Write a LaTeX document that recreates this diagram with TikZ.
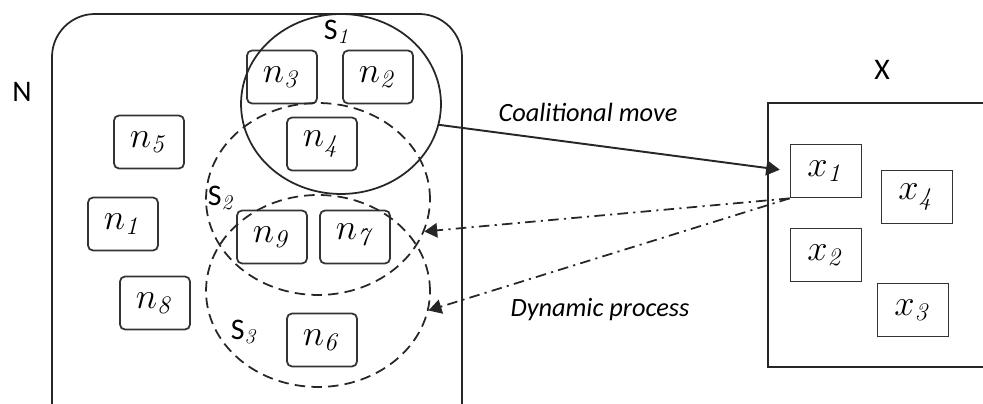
\documentclass[tikz,border=0pt]{standalone}
\usepackage[no-math]{fontspec}
\setmainfont{Carlito}
\usepackage{tikz}
\usetikzlibrary{arrows,shapes.geometric}

\newcommand{\elem}[2]{$#1_{\mathit{#2}}$}

\begin{document}
\begin{tikzpicture}[x=0.02cm,y=-0.02cm,>=triangle 60,line width=1pt,draw=black!85,
    agent node/.style={draw=black!80,rounded corners=0.1cm,minimum width=1.4cm,minimum height=1.06cm,font=\fontsize{20.74}{21}\selectfont},
    state node/.style={draw=black!80,minimum width=1.42cm,minimum height=1.06cm,font=\fontsize{20.74}{21}\selectfont},
    set node/.style={ellipse,draw=black!85,inner sep=0pt},
    set label/.style={font=\fontsize{17}{17}\selectfont},
    text label/.style={font=\fontsize{15}{15}\selectfont\itshape}]
  \useasboundingbox (0,0) rectangle (983,404);

  % player set N
  \draw[rounded corners=0.86cm] (52,420) -- (52,14) -- (462,14) -- (462,420);
  \node[set label] (N) at (22,92) {N};

  \node[agent node] (n3) at (282,77) {\elem{n}{3}};
  \node[agent node] (n2) at (378,77) {\elem{n}{2}};
  \node[agent node] (n4) at (322,144) {\elem{n}{4}};
  \node[agent node] (n5) at (149,142) {\elem{n}{5}};
  \node[agent node] (n1) at (123,224) {\elem{n}{1}};
  \node[agent node] (n8) at (155,303) {\elem{n}{8}};
  \node[agent node] (n9) at (272,237) {\elem{n}{9}};
  \node[agent node] (n7) at (355,237) {\elem{n}{7}};
  \node[agent node] (n6) at (322,340) {\elem{n}{6}};

  % coalitions
  \node[set node,minimum width=4cm,minimum height=3.6cm] (s1) at (341,104) {};
  \node[set node,dash pattern=on 6pt off 3.5pt,minimum width=4.48cm,minimum height=3.84cm] (s2) at (318,199) {};
  \node[set node,dash pattern=on 6pt off 3.5pt,minimum width=4.48cm,minimum height=3.84cm] (s3) at (318,291) {};
  \node[set label] (s1l) at (338,32) {S$_{\mathit{1}}$};
  \node[set label] (s2l) at (222,198) {S$_{\mathit{2}}$};
  \node[set label] (s3l) at (245,332) {S$_{\mathit{3}}$};

  % state set X
  \draw (990,103) -- (768,103) -- (768,367) -- (990,367);
  \node[set label] (X) at (882,70) {X};

  \node[state node] (x1) at (826,171) {\elem{x}{1}};
  \node[state node] (x4) at (917,197) {\elem{x}{4}};
  \node[state node] (x2) at (826,255) {\elem{x}{2}};
  \node[state node] (x3) at (913,310) {\elem{x}{3}};

  % moves
  \draw[->,line width=1.1pt,shorten >=0.2cm] (s1.-12) -- (x1.west);
  \node[text label] (cm) at (588,112) {Coalitional move};
  \draw[->,dash pattern=on 6pt off 3pt on 1.2pt off 3pt] (x1.south west) -- (s2.-17);
  \draw[->,dash pattern=on 6pt off 3pt on 1.2pt off 3pt] (x1.south west) -- (s3.-10);
  \node[text label] (dp) at (600,310) {Dynamic process};
\end{tikzpicture}
\end{document}
